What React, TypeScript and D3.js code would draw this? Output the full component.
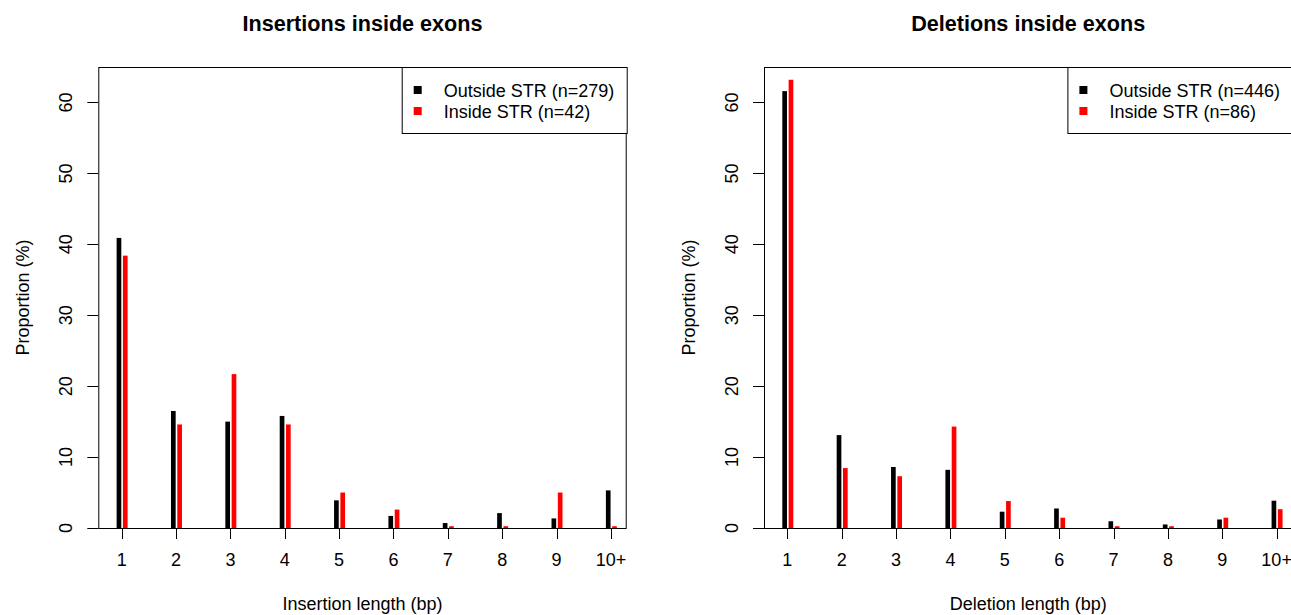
import React from 'react';
import * as d3 from 'd3';

const categories = ['1', '2', '3', '4', '5', '6', '7', '8', '9', '10+'];
const insOutside = [40.9, 16.5, 15.0, 15.8, 3.9, 1.7, 0.7, 2.1, 1.35, 5.3];
const insInside = [38.4, 14.6, 21.7, 14.6, 5.0, 2.6, 0.25, 0.25, 5.0, 0.25];
const delOutside = [61.6, 13.1, 8.6, 8.2, 2.3, 2.75, 0.95, 0.5, 1.2, 3.85];
const delInside = [63.2, 8.45, 7.3, 14.3, 3.8, 1.45, 0.25, 0.25, 1.45, 2.65];
const yTicks = [0, 10, 20, 30, 40, 50, 60];
const seriesColors = ['#000000', '#ff0000'];

const FONT = '"Liberation Sans", Arial, Helvetica, sans-serif';

type PanelProps = {
  left: number;
  title: string;
  xLabel: string;
  outside: number[];
  inside: number[];
  legend: string[];
};

const PLOT_W = 528.4;
const TOP = 67;
const BOTTOM = 528;

function Panel({ left, title, xLabel, outside, inside, legend }: PanelProps) {
  const right = left + PLOT_W;
  const xs = d3.scaleLinear().domain([0.57, 10.29]).range([left, right]);
  const ys = d3.scaleLinear().domain([0, 65]).range([BOTTOM, TOP]);
  const offsets = [-0.05, 0.066];
  const halfW = 0.043;
  const series = [outside, inside];
  const cx = (left + right) / 2;
  const legW = 225;
  const legX = right - legW;
  return (
    <g>
      <text x={cx} y={31} textAnchor="middle" fontWeight="bold" fontSize={21.6} fontFamily={FONT}>
        {title}
      </text>
      {series.map((vals, s) =>
        vals.map((v, i) => {
          const c = i + 1 + offsets[s];
          const x0 = xs(c - halfW);
          const x1 = xs(c + halfW);
          return (
            <rect
              key={`${s}-${i}`}
              x={x0}
              y={ys(v)}
              width={x1 - x0}
              height={ys(0) - ys(v)}
              fill={seriesColors[s]}
            />
          );
        })
      )}
      <rect x={left + 0.5} y={TOP + 0.5} width={PLOT_W - 1} height={BOTTOM - TOP} fill="none" stroke="#000" strokeWidth={1} />
      {yTicks.map((t) => (
        <g key={t}>
          <line x1={left - 11} x2={left} y1={Math.round(ys(t)) + 0.5} y2={Math.round(ys(t)) + 0.5} stroke="#000" />
          <text
            transform={`translate(${left - 26},${ys(t)}) rotate(-90)`}
            textAnchor="middle"
            fontSize={18}
            fontFamily={FONT}
          >
            {t}
          </text>
        </g>
      ))}
      {categories.map((c, i) => (
        <g key={c}>
          <line x1={Math.round(xs(i + 1)) + 0.5} x2={Math.round(xs(i + 1)) + 0.5} y1={BOTTOM} y2={BOTTOM + 11} stroke="#000" />
          <text x={xs(i + 1)} y={BOTTOM + 38} textAnchor="middle" fontSize={18} fontFamily={FONT}>
            {c}
          </text>
        </g>
      ))}
      <text x={cx} y={BOTTOM + 82} textAnchor="middle" fontSize={18} fontFamily={FONT}>
        {xLabel}
      </text>
      <text
        transform={`translate(${left - 69},${(TOP + BOTTOM) / 2}) rotate(-90)`}
        textAnchor="middle"
        fontSize={18}
        fontFamily={FONT}
      >
        Proportion (%)
      </text>
      <rect x={legX + 0.5} y={TOP + 0.5} width={legW} height={66} fill="#fff" stroke="#000" />
      {legend.map((l, i) => (
        <g key={l}>
          <rect x={legX + 12} y={TOP + 19 + i * 21} width={8} height={8} fill={seriesColors[i]} />
          <text x={legX + 42} y={TOP + 29.5 + i * 21} fontSize={18} fontFamily={FONT}>
            {l}
          </text>
        </g>
      ))}
    </g>
  );
}

export default function App() {
  return (
    <svg
      width={1291}
      height={615}
      style={{ position: 'absolute', left: 0, top: 0, background: '#fff' }}
    >
      <rect width={1291} height={615} fill="#fff" />
      <Panel
        left={98.3}
        title="Insertions inside exons"
        xLabel="Insertion length (bp)"
        outside={insOutside}
        inside={insInside}
        legend={['Outside STR (n=279)', 'Inside STR (n=42)']}
      />
      <Panel
        left={764}
        title="Deletions inside exons"
        xLabel="Deletion length (bp)"
        outside={delOutside}
        inside={delInside}
        legend={['Outside STR (n=446)', 'Inside STR (n=86)']}
      />
    </svg>
  );
}
